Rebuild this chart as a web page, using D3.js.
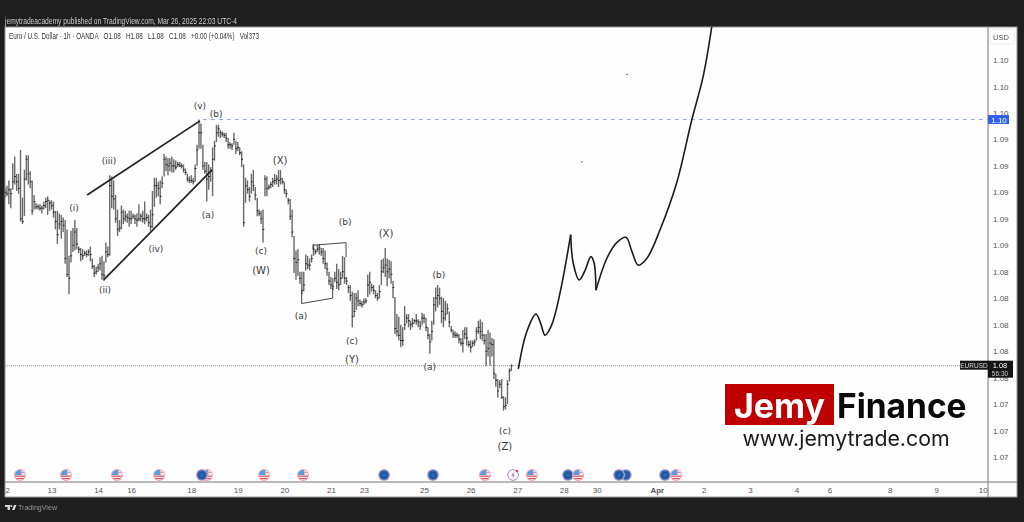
<!DOCTYPE html>
<meta charset="utf-8">
<style>
  body { margin: 0; background: #1e1e1e; }
  svg { display: block; filter: blur(0.35px); opacity: 0.999; }
  text { font-family: "Liberation Sans", Arial, sans-serif; white-space: pre; }
</style>
<script src="https://d3js.org/d3.v7.min.js"></script>

<div id="chart"></div>

<script>

// hourly bars, one entry per bar (index 0 = Mar 12 00:00)
var highs = [
  1.0903,1.0905,1.0909,1.0903,1.0922,1.0927,1.0914,1.0914,1.0932,1.0896,
  1.0917,1.0928,1.0928,1.0916,1.0909,1.0898,1.0892,1.0891,1.0891,1.0890,
  1.0893,1.0896,1.0897,1.0894,1.0894,1.0893,1.0886,1.0886,1.0884,1.0883,
  1.0881,1.0879,1.0872,1.0852,1.0871,1.0873,1.0879,1.0873,1.0859,1.0858,
  1.0857,1.0856,1.0856,1.0857,1.0859,1.0850,1.0845,1.0844,1.0846,1.0851,
  1.0852,1.0848,1.0862,1.0859,1.0913,1.0912,1.0909,1.0898,1.0887,1.0879,
  1.0890,1.0887,1.0886,1.0884,1.0886,1.0886,1.0884,1.0883,1.0884,1.0891,
  1.0884,1.0886,1.0893,1.0884,1.0883,1.0887,1.0901,1.0911,1.0911,1.0908,
  1.0909,1.0912,1.0929,1.0927,1.0926,1.0926,1.0927,1.0925,1.0924,1.0923,
  1.0923,1.0922,1.0921,1.0918,1.0914,1.0912,1.0913,1.0911,1.0921,1.0936,
  1.0955,1.0952,1.0936,1.0923,1.0923,1.0921,1.0919,1.0934,1.0939,1.0951,
  1.0951,1.0947,1.0946,1.0945,1.0945,1.0941,1.0938,1.0937,1.0945,1.0939,
  1.0938,1.0934,1.0931,1.0921,1.0911,1.0909,1.0904,1.0914,1.0917,1.0904,
  1.0896,1.0887,1.0886,1.0887,1.0913,1.0912,1.0906,1.0908,1.0911,1.0914,
  1.0913,1.0917,1.0917,1.0911,1.0908,1.0902,1.0896,1.0895,1.0887,1.0867,
  1.0856,1.0857,1.0840,1.0840,1.0840,1.0853,1.0852,1.0850,1.0853,1.0861,
  1.0857,1.0860,1.0861,1.0858,1.0858,1.0856,1.0847,1.0840,1.0836,1.0835,
  1.0840,1.0846,1.0842,1.0840,1.0852,1.0851,1.0836,1.0830,1.0830,1.0825,
  1.0824,1.0824,1.0826,1.0819,1.0818,1.0820,1.0820,1.0838,1.0840,1.0831,
  1.0830,1.0826,1.0824,1.0830,1.0849,1.0850,1.0858,1.0850,1.0849,1.0848,
  1.0833,1.0821,1.0808,1.0806,1.0800,1.0798,1.0814,1.0808,1.0808,1.0803,
  1.0805,1.0804,1.0808,1.0804,1.0803,1.0809,1.0808,1.0805,1.0798,1.0793,
  1.0803,1.0821,1.0828,1.0830,1.0828,1.0821,1.0820,1.0818,1.0816,1.0810,
  1.0799,1.0796,1.0795,1.0794,1.0793,1.0790,1.0796,1.0798,1.0798,1.0788,
  1.0788,1.0788,1.0789,1.0798,1.0803,1.0804,1.0802,1.0793,1.0793,1.0796,
  1.0794,1.0790,1.0789,1.0763,1.0759,1.0758,1.0759,1.0746,1.0745,1.0758,
  1.0767,1.0770
];
var lows = [
  1.0896,1.0897,1.0891,1.0888,1.0902,1.0906,1.0901,1.0899,1.0878,1.0876,
  1.0882,1.0909,1.0906,1.0903,1.0883,1.0887,1.0887,1.0887,1.0886,1.0884,
  1.0887,1.0888,1.0883,1.0886,1.0887,1.0881,1.0872,1.0861,1.0872,1.0865,
  1.0870,1.0846,1.0836,1.0823,1.0847,1.0855,1.0856,1.0857,1.0854,1.0848,
  1.0849,1.0852,1.0851,1.0852,1.0848,1.0842,1.0836,1.0838,1.0840,1.0841,
  1.0834,1.0833,1.0847,1.0851,1.0852,1.0888,1.0887,1.0877,1.0867,1.0870,
  1.0872,1.0876,1.0878,1.0877,1.0874,1.0876,1.0880,1.0876,1.0874,1.0878,
  1.0878,1.0877,1.0876,1.0878,1.0874,1.0871,1.0873,1.0889,1.0896,1.0897,
  1.0891,1.0903,1.0912,1.0916,1.0913,1.0916,1.0915,1.0915,1.0917,1.0919,
  1.0919,1.0918,1.0915,1.0913,1.0908,1.0907,1.0907,1.0906,1.0908,1.0920,
  1.0933,1.0933,1.0917,1.0914,1.0893,1.0902,1.0908,1.0897,1.0924,1.0938,
  1.0942,1.0941,1.0942,1.0941,1.0938,1.0933,1.0933,1.0932,1.0936,1.0929,
  1.0931,1.0928,1.0919,1.0874,1.0892,1.0899,1.0893,1.0899,1.0901,1.0894,
  1.0882,1.0882,1.0876,1.0862,1.0897,1.0897,1.0902,1.0903,1.0904,1.0906,
  1.0906,1.0904,1.0906,1.0906,1.0899,1.0896,1.0891,1.0879,1.0866,1.0839,
  1.0834,1.0837,1.0831,1.0823,1.0825,1.0841,1.0842,1.0841,1.0847,1.0852,
  1.0853,1.0855,1.0853,1.0852,1.0846,1.0842,1.0837,1.0830,1.0827,1.0826,
  1.0832,1.0827,1.0826,1.0830,1.0835,1.0831,1.0830,1.0824,1.0818,1.0798,
  1.0806,1.0811,1.0814,1.0814,1.0813,1.0815,1.0816,1.0821,1.0823,1.0825,
  1.0823,1.0820,1.0818,1.0820,1.0830,1.0839,1.0836,1.0829,1.0835,1.0831,
  1.0820,1.0793,1.0791,1.0788,1.0783,1.0784,1.0796,1.0801,1.0798,1.0796,
  1.0798,1.0801,1.0800,1.0798,1.0796,1.0800,1.0801,1.0795,1.0789,1.0778,
  1.0788,1.0800,1.0810,1.0813,1.0815,1.0801,1.0798,1.0803,1.0808,1.0798,
  1.0794,1.0790,1.0790,1.0790,1.0786,1.0784,1.0779,1.0789,1.0784,1.0783,
  1.0779,1.0783,1.0784,1.0788,1.0793,1.0789,1.0788,1.0785,1.0769,1.0776,
  1.0769,1.0776,1.0759,1.0753,1.0745,1.0752,1.0744,1.0735,1.0736,1.0740,
  1.0757,1.0765
];
var closes = [
  1.0900,1.0899,1.0902,1.0899,1.0908,1.0912,1.0908,1.0903,1.0880,1.0878,
  1.0910,1.0925,1.0914,1.0908,1.0886,1.0893,1.0889,1.0889,1.0888,1.0888,
  1.0890,1.0893,1.0894,1.0892,1.0890,1.0885,1.0878,1.0868,1.0876,1.0878,
  1.0875,1.0850,1.0838,1.0835,1.0852,1.0860,1.0870,1.0861,1.0857,1.0853,
  1.0852,1.0854,1.0853,1.0855,1.0853,1.0844,1.0839,1.0840,1.0843,1.0846,
  1.0838,1.0837,1.0855,1.0853,1.0905,1.0897,1.0895,1.0880,1.0872,1.0873,
  1.0885,1.0880,1.0882,1.0881,1.0880,1.0880,1.0882,1.0880,1.0879,1.0880,
  1.0882,1.0880,1.0880,1.0881,1.0877,1.0874,1.0883,1.0905,1.0905,1.0903,
  1.0897,1.0907,1.0925,1.0921,1.0920,1.0922,1.0920,1.0920,1.0919,1.0921,
  1.0920,1.0920,1.0917,1.0915,1.0910,1.0909,1.0909,1.0908,1.0918,1.0932,
  1.0945,1.0945,1.0920,1.0916,1.0910,1.0912,1.0916,1.0925,1.0935,1.0945,
  1.0948,1.0945,1.0944,1.0943,1.0941,1.0936,1.0936,1.0935,1.0940,1.0933,
  1.0934,1.0930,1.0925,1.0877,1.0905,1.0902,1.0897,1.0908,1.0905,1.0898,
  1.0886,1.0884,1.0880,1.0872,1.0910,1.0903,1.0904,1.0906,1.0908,1.0909,
  1.0910,1.0909,1.0910,1.0908,1.0902,1.0899,1.0894,1.0882,1.0870,1.0850,
  1.0847,1.0849,1.0835,1.0826,1.0830,1.0846,1.0845,1.0845,1.0850,1.0857,
  1.0855,1.0857,1.0858,1.0855,1.0850,1.0846,1.0842,1.0833,1.0830,1.0829,
  1.0835,1.0832,1.0830,1.0835,1.0840,1.0835,1.0833,1.0828,1.0822,1.0806,
  1.0810,1.0820,1.0818,1.0816,1.0815,1.0817,1.0818,1.0830,1.0832,1.0828,
  1.0826,1.0822,1.0820,1.0825,1.0840,1.0843,1.0845,1.0840,1.0842,1.0838,
  1.0828,1.0797,1.0795,1.0792,1.0788,1.0788,1.0800,1.0805,1.0803,1.0800,
  1.0801,1.0803,1.0803,1.0802,1.0799,1.0805,1.0805,1.0798,1.0792,1.0787,
  1.0795,1.0815,1.0820,1.0822,1.0820,1.0810,1.0805,1.0808,1.0812,1.0802,
  1.0796,1.0793,1.0792,1.0792,1.0789,1.0786,1.0786,1.0793,1.0790,1.0785,
  1.0783,1.0786,1.0787,1.0795,1.0798,1.0795,1.0792,1.0788,1.0780,1.0782,
  1.0786,1.0785,1.0763,1.0758,1.0750,1.0755,1.0745,1.0738,1.0739,1.0755,
  1.0765,1.0769
];

// price axis
var priceTicks = [1.100,1.098,1.096,1.094,1.092,1.090,1.088,1.086,1.084,1.082,1.080,1.078,1.076,1.074,1.072,1.070];
var highLine = 1.0955;

// time axis, positions are bar numbers because weekends are skipped
var dayBars =   [0,24,48,65,96,120,144,168,185,216,240,264,288,305,336,360,384,408,425,456,480,504];
var dayLabels = ["12","13","14","16","18","19","20","21","23","25","26","27","28","30","Apr","2","3","4","6","8","9","10"];

// elliott wave labels
var waveLabels = ["(i)","(ii)","(iii)","(iv)","(v)","(b)","(a)","(c)","(W)","(X)","(b)","(a)","(X)","(c)","(Y)","(b)","(a)","(c)","(Z)"];
var waveBars =   [35.6,51.5,53.6,77.8,100.5,108.8,104.6,132,132,141.8,175.3,152.6,196.4,178.9,178.9,223.7,219,257.7,257.7];
var wavePrices = [1.0888,1.0826,1.0924,1.0857,1.0965,1.0959,1.0883,1.0856,1.0841,1.0924,1.0878,1.0807,1.0869,1.0788,1.0774,1.0838,1.0768,1.0720,1.0708];

// hand drawn lines on the chart
var wedgeUpperBars = [42.3,100.5],  wedgeUpperPrices = [1.0898,1.0954];
var wedgeLowerBars = [51,106.7],    wedgeLowerPrices = [1.0834,1.0917];
var boxLowBars = [152.9,152.9,168.9,168.9], boxLowPrices = [1.0825,1.0816,1.0820,1.0828];
var boxTopBars = [158.8,158.8,175.8,175.8], boxTopPrices = [1.0857,1.0860,1.0862,1.0851];

// the projected path, cut in three legs at its two sharp turns
var leg1Bars =   [264.6,268.9,273.7,276.1,278.4,281.8,286.1,291.6];
var leg1Prices = [1.07665,1.07945,1.0808,1.0801,1.0792,1.07998,1.0824,1.0868];
var leg2Bars =   [291.6,292.9,296,299,302,303.6,304.6];
var leg2Prices = [1.0868,1.08466,1.08338,1.0841,1.08514,1.0847,1.0826];
var leg3Bars =   [304.6,310.2,315.3,320.1,323,326.4,330.8,337.6,346.2,354,359.8,364.3];
var leg3Prices = [1.0826,1.0850,1.0862,1.0866,1.0856,1.0845,1.0850,1.08715,1.0907,1.09547,1.0987,1.1025];
var dotBars = [320.6,297.4], dotPrices = [1.0989,1.0923];

// economic calendar icons
var eventBars =  [7.7,31.4,57.7,79.4,104.1,101.5,133.5,153.6,195.4,220.6,247.4,261.9,271.6,290.2,295.4,320,316.5,345.9,340.2];
var eventKinds = ["us","us","us","us","us","eu","us","us","eu","eu","us","bolt","us","eu","us","eu","eu","us","eu"];

// set the dimensions of the graph
var width = 1024, height = 522,
    panel = {left: 5, right: 1017, top: 27, bottom: 497},
    plot = {right: 988, bottom: 482};

var svg = d3.select("#chart")
  .append("svg")
    .attr("width", width)
    .attr("height", height);

svg.append("defs").append("clipPath").attr("id", "plotClip")
  .append("rect")
    .attr("x", panel.left).attr("y", panel.top)
    .attr("width", plot.right - panel.left)
    .attr("height", plot.bottom - panel.top);
svg.select("defs").append("clipPath").attr("id", "panelClip")
  .append("rect")
    .attr("x", panel.left).attr("y", panel.top)
    .attr("width", panel.right - panel.left)
    .attr("height", panel.bottom - panel.top);
svg.select("defs").append("clipPath").attr("id", "iconClip")
  .append("circle").attr("r", 5);

svg.append("rect")
  .attr("x", panel.left).attr("y", panel.top)
  .attr("width", panel.right - panel.left)
  .attr("height", panel.bottom - panel.top)
  .attr("fill", "white")
  .attr("stroke", "#9a9a9a");

// scales
var x = d3.scaleLinear().domain([0, 506.7]).range([panel.left, plot.right]);
var y = d3.scaleLinear().domain([1.07, 1.10]).range([457, 60]);

// Add X axis, the clip sits on a wrapper so it keeps page coordinates
var xAxis = svg.append("g")
  .attr("clip-path", "url(#panelClip)")
  .append("g")
  .attr("transform", "translate(0," + plot.bottom + ")")
  .call(d3.axisBottom(x).tickValues(dayBars).tickSize(0).tickPadding(5)
    .tickFormat(function(d, i) { return dayLabels[i]; }));
xAxis.select(".domain").remove();
xAxis.selectAll("text")
  .attr("fill", "#555")
  .style("font-size", "8px")
  .style("font-weight", function(d, i) { return dayLabels[i] == "Apr" ? "bold" : "normal"; });

// Add Y axis
var yAxis = svg.append("g")
  .attr("transform", "translate(" + plot.right + ",0)")
  .call(d3.axisRight(y).tickValues(priceTicks).tickSize(0).tickPadding(5)
    .tickFormat(function(d) { return d.toFixed(2); }));
yAxis.select(".domain").remove();
yAxis.selectAll("text").attr("fill", "#555").style("font-size", "8px");

// axis frame
svg.append("line")
  .attr("x1", panel.left).attr("x2", panel.right)
  .attr("y1", plot.bottom).attr("y2", plot.bottom)
  .attr("stroke", "#777");
svg.append("line")
  .attr("x1", plot.right).attr("x2", plot.right)
  .attr("y1", panel.top).attr("y2", panel.bottom)
  .attr("stroke", "#777");

var chart = svg.append("g").attr("clip-path", "url(#plotClip)");

// the dashed line on the top of the move and the last price line
chart.append("line")
  .attr("x1", x(102)).attr("x2", plot.right)
  .attr("y1", y(highLine)).attr("y2", y(highLine))
  .attr("stroke", "#8fa8d0")
  .attr("stroke-dasharray", "4,4");
chart.append("line")
  .attr("x1", panel.left).attr("x2", plot.right)
  .attr("y1", y(closes[closes.length - 1])).attr("y2", y(closes[closes.length - 1]))
  .attr("stroke", "#999")
  .attr("stroke-dasharray", "1,1");

// Add the bars
var barGroup = chart.append("g");
barGroup.selectAll(".bar")
  .data(highs)
  .join("line")
    .attr("class", "bar")
    .attr("x1", function(d, i) { return x(i); })
    .attr("x2", function(d, i) { return x(i); })
    .attr("y1", function(d) { return y(d); })
    .attr("y2", function(d, i) { return y(lows[i]); })
    .attr("stroke", "#6a6a6a")
    .attr("stroke-width", 1.4);
barGroup.selectAll(".tick-close")
  .data(closes)
  .join("line")
    .attr("class", "tick-close")
    .attr("x1", function(d, i) { return x(i) - 0.5; })
    .attr("x2", function(d, i) { return x(i) + 1.3; })
    .attr("y1", function(d) { return y(d); })
    .attr("y2", function(d) { return y(d); })
    .attr("stroke", "#222");

// hand drawn lines
function pts(bars, prices) {
  return bars.map(function(b, i) { return [x(b), y(prices[i])]; });
}
var straight = d3.line();

[[wedgeUpperBars, wedgeUpperPrices], [wedgeLowerBars, wedgeLowerPrices]].forEach(function(l) {
  chart.append("path")
    .attr("d", straight(pts(l[0], l[1])))
    .attr("fill", "none")
    .attr("stroke", "#222")
    .attr("stroke-width", 1.7);
});
[[boxLowBars, boxLowPrices], [boxTopBars, boxTopPrices]].forEach(function(l) {
  chart.append("path")
    .attr("d", straight(pts(l[0], l[1])))
    .attr("fill", "none")
    .attr("stroke", "#333")
    .attr("stroke-width", 0.9);
});

// projected path
var curved = d3.line().curve(d3.curveCatmullRom.alpha(0.5));
[[leg1Bars, leg1Prices], [leg2Bars, leg2Prices], [leg3Bars, leg3Prices]].forEach(function(l) {
  chart.append("path")
    .attr("d", curved(pts(l[0], l[1])))
    .attr("fill", "none")
    .attr("stroke", "#1c1c1c")
    .attr("stroke-width", 1.6);
});

chart.selectAll(".dot")
  .data(dotBars)
  .join("circle")
    .attr("class", "dot")
    .attr("cx", function(d) { return x(d); })
    .attr("cy", function(d, i) { return y(dotPrices[i]); })
    .attr("r", 0.7)
    .attr("fill", "#333");

// wave labels
chart.selectAll(".wave")
  .data(waveLabels)
  .join("text")
    .attr("class", "wave")
    .attr("x", function(d, i) { return x(waveBars[i]); })
    .attr("y", function(d, i) { return y(wavePrices[i]); })
    .attr("dy", "0.35em")
    .attr("text-anchor", "middle")
    .attr("fill", "#3a3a3a")
    .style("font-family", "'DejaVu Sans'")
    .style("font-size", function(d) { return /[WXYZ]/.test(d) ? "10px" : "9px"; })
    .text(function(d) { return d; });

// calendar icons
var iconY = 475;
var icons = chart.selectAll(".icon")
  .data(eventBars)
  .join("g")
    .attr("class", "icon")
    .attr("transform", function(d) { return "translate(" + x(d) + "," + iconY + ")"; });

icons.each(function(d, i) {
  var g = d3.select(this), kind = eventKinds[i];
  if (kind == "bolt") {
    g.append("circle").attr("r", 5.3).attr("fill", "white").attr("stroke", "#b07fd0").attr("stroke-width", 1);
    g.append("path").attr("d", "M1,-3.5L-2,0.6H0L-1,3.5L2,-0.6H0Z").attr("fill", "#a86fd0");
    g.append("circle").attr("cx", 4).attr("cy", -4).attr("r", 1.3).attr("fill", "#e0405a");
    return;
  }
  if (kind == "eu") {
    g.append("circle").attr("r", 6).attr("fill", "#c9a4c4");
    g.append("circle").attr("r", 4.8).attr("fill", "#2a68b4");
    g.append("circle").attr("r", 2.8).attr("fill", "none").attr("stroke", "#154a8c").attr("stroke-width", 0.8);
    return;
  }
  g.append("circle").attr("r", 6).attr("fill", "#f2a9ad");
  var flag = g.append("g").attr("clip-path", "url(#iconClip)");
  flag.append("rect").attr("x", -5).attr("y", -5).attr("width", 10).attr("height", 10).attr("fill", "#fbeeee");
  flag.append("rect").attr("x", -5).attr("y", 0.6).attr("width", 10).attr("height", 1.2).attr("fill", "#d9505a");
  flag.append("rect").attr("x", -5).attr("y", 3).attr("width", 10).attr("height", 1.2).attr("fill", "#d9505a");
  flag.append("rect").attr("x", -5).attr("y", -5).attr("width", 6.5).attr("height", 5).attr("fill", "#5b9be0");
  flag.append("rect").attr("x", 1.5).attr("y", -3).attr("width", 4).attr("height", 1).attr("fill", "#e8939a");
});

// price scale labels
svg.append("rect")
  .attr("x", 990).attr("y", 29).attr("width", 24).attr("height", 15)
  .attr("fill", "white").attr("stroke", "#eee");
svg.append("text")
  .attr("x", 1001).attr("y", 40)
  .attr("text-anchor", "middle").attr("fill", "#555")
  .style("font-size", "7.5px")
  .text("USD");

svg.append("rect")
  .attr("x", plot.right).attr("y", y(highLine) - 4.5).attr("width", 21).attr("height", 9)
  .attr("fill", "#2f62e8");
svg.append("text")
  .attr("x", plot.right + 11).attr("y", y(highLine) + 3)
  .attr("text-anchor", "middle").attr("fill", "white")
  .style("font-size", "8px")
  .text(highLine.toFixed(2));

var lastY = y(closes[closes.length - 1]);
svg.append("rect")
  .attr("x", 960).attr("y", lastY - 5).attr("width", 28).attr("height", 9)
  .attr("fill", "#151515");
svg.append("text")
  .attr("x", 974).attr("y", lastY + 2)
  .attr("text-anchor", "middle").attr("fill", "#ddd")
  .style("font-size", "6.5px")
  .text("EURUSD");
svg.append("rect")
  .attr("x", plot.right).attr("y", lastY - 5).attr("width", 25).attr("height", 17)
  .attr("fill", "#151515");
svg.append("text")
  .attr("x", 1000).attr("y", lastY + 2.5)
  .attr("text-anchor", "middle").attr("fill", "white")
  .style("font-size", "7.5px")
  .text(closes[closes.length - 1].toFixed(2));
svg.append("text")
  .attr("x", 1000).attr("y", lastY + 10)
  .attr("text-anchor", "middle").attr("fill", "#ccc")
  .style("font-size", "6.5px")
  .text("56:30");

// header texts
svg.append("text")
  .attr("x", 5).attr("y", 24)
  .attr("fill", "#cfcfcf")
  .attr("textLength", 232)
  .attr("lengthAdjust", "spacingAndGlyphs")
  .style("font-size", "8.5px")
  .text("jemytradeacademy published on TradingView.com, Mar 26, 2025 22:03 UTC-4");
svg.append("text")
  .attr("x", 9).attr("y", 38.5)
  .attr("fill", "#333")
  .attr("textLength", 250)
  .attr("lengthAdjust", "spacingAndGlyphs")
  .style("font-size", "8.5px")
  .text("Euro / U.S. Dollar · 1h · OANDA   O1.08   H1.08   L1.08   C1.08   +0.00 (+0.04%)   Vol373");

// footer logo
var logo = svg.append("g").attr("fill", "#d8d8d8");
logo.append("path").attr("d", "M5,505H10V510H7.5V507H5Z");
logo.append("circle").attr("cx", 11.3).attr("cy", 506).attr("r", 1.1);
logo.append("path").attr("d", "M12,510L14,505H16.5L14.5,510Z");
svg.append("text")
  .attr("x", 18).attr("y", 510)
  .attr("fill", "#9a9a9a")
  .attr("textLength", 39)
  .attr("lengthAdjust", "spacingAndGlyphs")
  .style("font-size", "8px")
  .text("TradingView");

// watermark
svg.append("rect")
  .attr("x", 725).attr("y", 384).attr("width", 109).attr("height", 41)
  .attr("fill", "#c00000");
svg.append("text")
  .attr("x", 779.5).attr("y", 418)
  .attr("text-anchor", "middle").attr("fill", "white")
  .style("font-family", "Inter").style("font-weight", "700").style("font-size", "34px")
  .text("Jemy");
svg.append("text")
  .attr("x", 837).attr("y", 418)
  .attr("fill", "#0a0a0a")
  .style("font-family", "Inter").style("font-weight", "700").style("font-size", "33.5px")
  .text("Finance");
svg.append("text")
  .attr("x", 846).attr("y", 446)
  .attr("text-anchor", "middle").attr("fill", "#1a1a1a")
  .style("font-family", "Inter").style("font-size", "21.3px")
  .text("www.jemytrade.com");

</script>
